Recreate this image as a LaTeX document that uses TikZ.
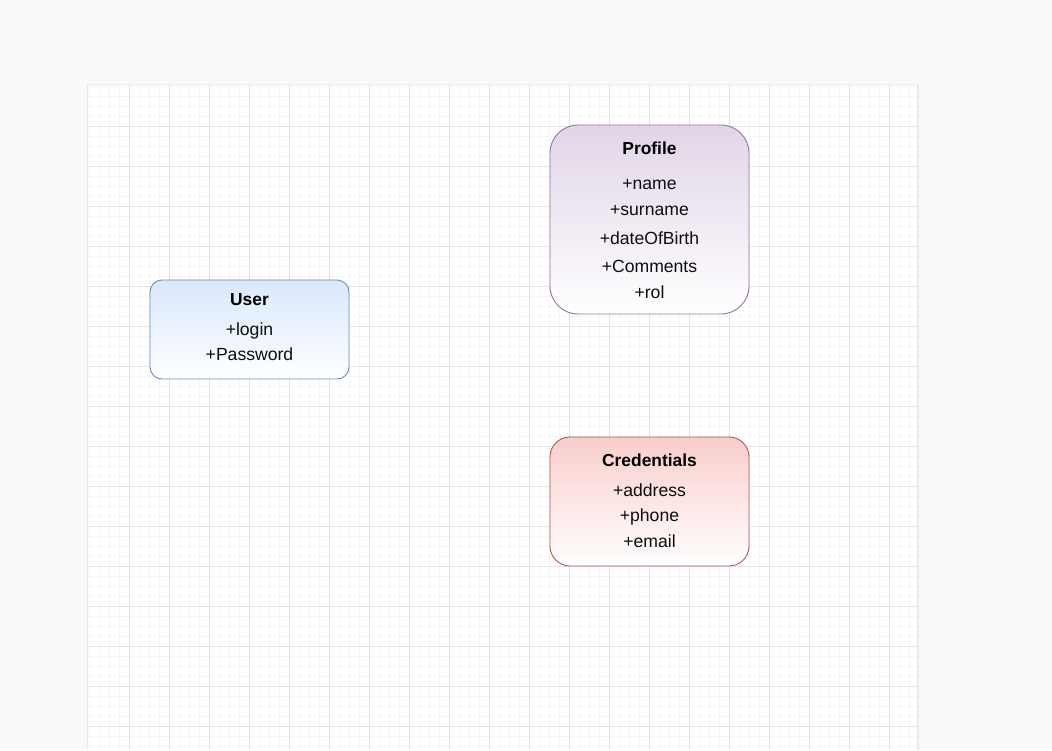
\documentclass[tikz,border=0pt]{standalone}
\usepackage{fontspec}
\setmainfont{Liberation Sans}
\definecolor{bgout}{HTML}{F8F9FA}
\definecolor{pageedge}{HTML}{DADCE0}
\definecolor{gminor}{HTML}{F5F5F5}
\definecolor{gmajor}{HTML}{E3E3E3}
\definecolor{bluefill}{HTML}{DAE8FC}
\definecolor{blueline}{HTML}{6C8EBF}
\definecolor{purfill}{HTML}{E1D5E7}
\definecolor{purline}{HTML}{9673A6}
\definecolor{redfill}{HTML}{F8CECC}
\definecolor{redline}{HTML}{B85450}
\tikzset{
  boxshape/.style={rectangle, inner sep=0pt, line width=0.9pt, bottom color=white},
  attr/.style={anchor=base, inner sep=0pt, font=\fontsize{17.6}{20}\selectfont, text=black!95},
  ttl/.style={anchor=base, inner sep=0pt, font=\fontsize{17.4}{20}\selectfont\bfseries, text=black},
  minorline/.style={gminor, line width=0.7pt},
  majorline/.style={gmajor, line width=0.9pt}
}
\begin{document}
\begin{tikzpicture}[x=1pt,y=-1pt]
\useasboundingbox (0,0) rectangle (1052,750);
\fill[bgout] (0,0) rectangle (1052,750);
% page
\fill[pageedge!60] (87,84) rectangle (919,750);
\fill[white] (88,85) rectangle (917,750);
% grid
\foreach \x in {89,99,...,909} \draw[minorline] (\x,85) -- (\x,750);
\foreach \y in {86,96,...,746} \draw[minorline] (88,\y) -- (917,\y);
\foreach \x in {129,169,...,889} \draw[majorline] (\x,85) -- (\x,750);
\foreach \y in {126,166,...,726} \draw[majorline] (88,\y) -- (917,\y);
% boxes
\node[boxshape, draw=blueline, top color=bluefill, rounded corners=12pt,
      minimum width=199pt, minimum height=99pt] (user) at (249.5,329.5) {};
\node[boxshape, draw=purline, top color=purfill, rounded corners=28pt,
      minimum width=199pt, minimum height=189pt] (profile) at (649.5,219.5) {};
\node[boxshape, draw=redline, top color=redfill, rounded corners=20pt,
      minimum width=199pt, minimum height=129pt] (cred) at (649.5,501.5) {};
% User texts
\node[ttl]  (userT) at (249.5,305) {User};
\node[attr] (userA) at (249.5,335) {+login};
\node[attr] (userB) at (249.5,360) {+Password};
% Profile texts
\node[ttl]  (profT) at (649.5,154) {Profile};
\node[attr] (profA) at (649.5,189) {+name};
\node[attr] (profB) at (649.5,215) {+surname};
\node[attr] (profC) at (649.5,244) {+dateOfBirth};
\node[attr] (profD) at (649.5,272) {+Comments};
\node[attr] (profE) at (649.5,298) {+rol};
% Credentials texts
\node[ttl]  (credT) at (649.5,466) {Credentials};
\node[attr] (credA) at (649.5,496) {+address};
\node[attr] (credB) at (649.5,521) {+phone};
\node[attr] (credC) at (649.5,547) {+email};
\end{tikzpicture}
\end{document}
